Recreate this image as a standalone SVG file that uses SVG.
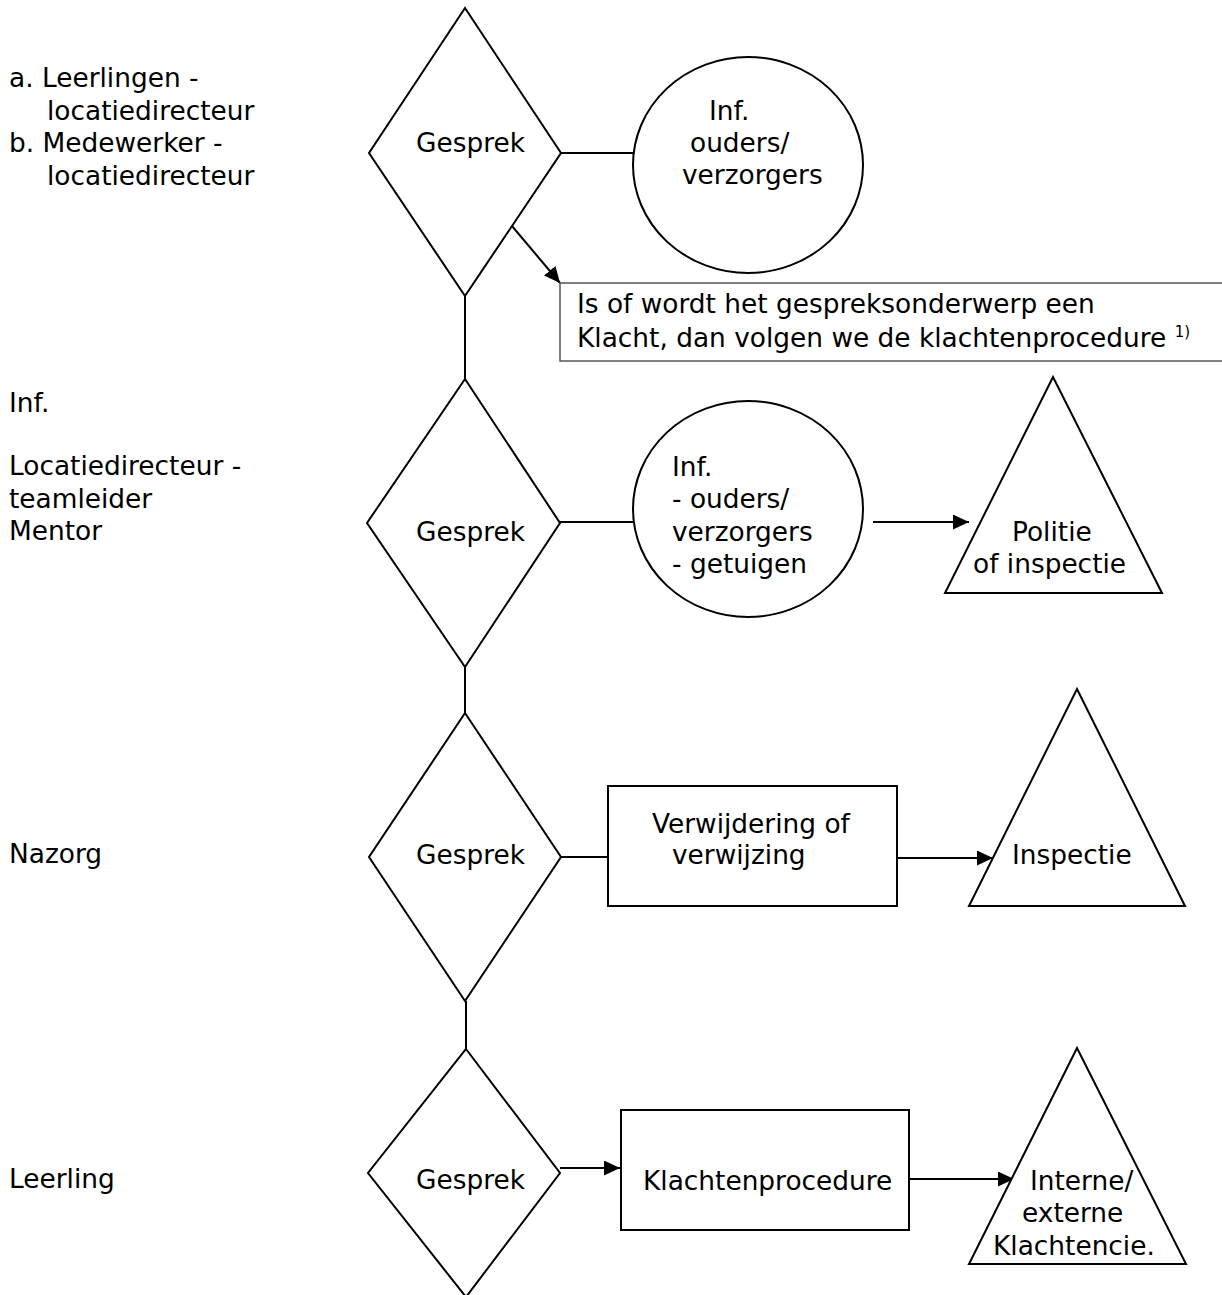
<svg xmlns="http://www.w3.org/2000/svg" width="1222" height="1295" viewBox="0 0 1222 1295">
<style>
  .s { fill: #fff; stroke: #000; stroke-width: 2; }
  .c { fill: none; stroke: #000; stroke-width: 2; }
  .box { fill: #fff; stroke: #555; stroke-width: 1.5; }
  text { font-family: "DejaVu Sans", Verdana, sans-serif; font-size: 26.4px; fill: #000; }
  .sup { font-size: 15px; }
</style>
<defs>
  <marker id="ah" markerUnits="userSpaceOnUse" markerWidth="16" markerHeight="15" refX="16" refY="7.5" orient="auto">
    <path d="M0,0 L16,7.5 L0,15 z" fill="#000"/>
  </marker>
</defs>
<rect width="1222" height="1295" fill="#fff"/>

<g id="labels">
  <text x="9" y="87">a. Leerlingen -</text>
  <text x="47" y="120">locatiedirecteur</text>
  <text x="9" y="152">b. Medewerker -</text>
  <text x="47" y="185">locatiedirecteur</text>
  <text x="9" y="412">Inf.</text>
  <text x="9" y="475">Locatiedirecteur -</text>
  <text x="9" y="508">teamleider</text>
  <text x="9" y="540">Mentor</text>
  <text x="9" y="863">Nazorg</text>
  <text x="9" y="1188">Leerling</text>
</g>

<g id="connectors">
  <line class="c" x1="465" y1="296" x2="465" y2="379"/>
  <line class="c" x1="465" y1="667" x2="465" y2="713"/>
  <line class="c" x1="466" y1="1001" x2="466" y2="1049"/>
  <line class="c" x1="561" y1="153" x2="633" y2="153"/>
  <line class="c" x1="512" y1="226" x2="560" y2="283" marker-end="url(#ah)"/>
  <line class="c" x1="560" y1="522" x2="633" y2="522"/>
  <line class="c" x1="873" y1="522" x2="969" y2="522" marker-end="url(#ah)"/>
  <line class="c" x1="561" y1="857" x2="608" y2="857"/>
  <line class="c" x1="897" y1="858" x2="993" y2="858" marker-end="url(#ah)"/>
  <line class="c" x1="560" y1="1168" x2="620" y2="1168" marker-end="url(#ah)"/>
  <line class="c" x1="909" y1="1179" x2="1014" y2="1179" marker-end="url(#ah)"/>
</g>

<g id="gesprek1">
  <polygon class="s" points="465,8 561,153 465,296 369,153"/>
  <text x="416" y="152">Gesprek</text>
</g>
<g id="inf1">
  <ellipse class="s" cx="748" cy="165" rx="115" ry="108"/>
  <text x="709" y="120">Inf.</text>
  <text x="690" y="152">ouders/</text>
  <text x="682" y="184">verzorgers</text>
</g>
<g id="klacht-note">
  <rect class="box" x="560" y="283" width="663" height="78"/>
  <text x="577" y="313">Is of wordt het gespreksonderwerp een</text>
  <text x="577" y="347">Klacht, dan volgen we de klachtenprocedure <tspan class="sup" dy="-10">1)</tspan></text>
</g>

<g id="gesprek2">
  <polygon class="s" points="465,379 560,523 465,667 367,523"/>
  <text x="416" y="541">Gesprek</text>
</g>
<g id="inf2">
  <ellipse class="s" cx="748" cy="509" rx="115" ry="108"/>
  <text x="672" y="476">Inf.</text>
  <text x="672" y="508">- ouders/</text>
  <text x="672" y="541">verzorgers</text>
  <text x="672" y="573">- getuigen</text>
</g>
<g id="politie">
  <polygon class="s" points="1053,377 1162,593 945,593"/>
  <text x="1012" y="541">Politie</text>
  <text x="973" y="573">of inspectie</text>
</g>

<g id="gesprek3">
  <polygon class="s" points="465,713 561,857 465,1001 369,857"/>
  <text x="416" y="864">Gesprek</text>
</g>
<g id="verwijdering">
  <rect class="s" x="608" y="786" width="289" height="120"/>
  <text x="652" y="833">Verwijdering of</text>
  <text x="672" y="864">verwijzing</text>
</g>
<g id="inspectie">
  <polygon class="s" points="1077,689 1185,906 969,906"/>
  <text x="1012" y="864">Inspectie</text>
</g>

<g id="gesprek4">
  <polygon class="s" points="466,1049 560,1173 466,1297 368,1173"/>
  <text x="416" y="1189">Gesprek</text>
</g>
<g id="klachtenprocedure">
  <rect class="s" x="621" y="1110" width="288" height="120"/>
  <text x="643" y="1190">Klachtenprocedure</text>
</g>
<g id="klachtencie">
  <polygon class="s" points="1077,1048 1186,1264 969,1264"/>
  <text x="1030" y="1190">Interne/</text>
  <text x="1022" y="1222">externe</text>
  <text x="993" y="1255">Klachtencie.</text>
</g>
</svg>
